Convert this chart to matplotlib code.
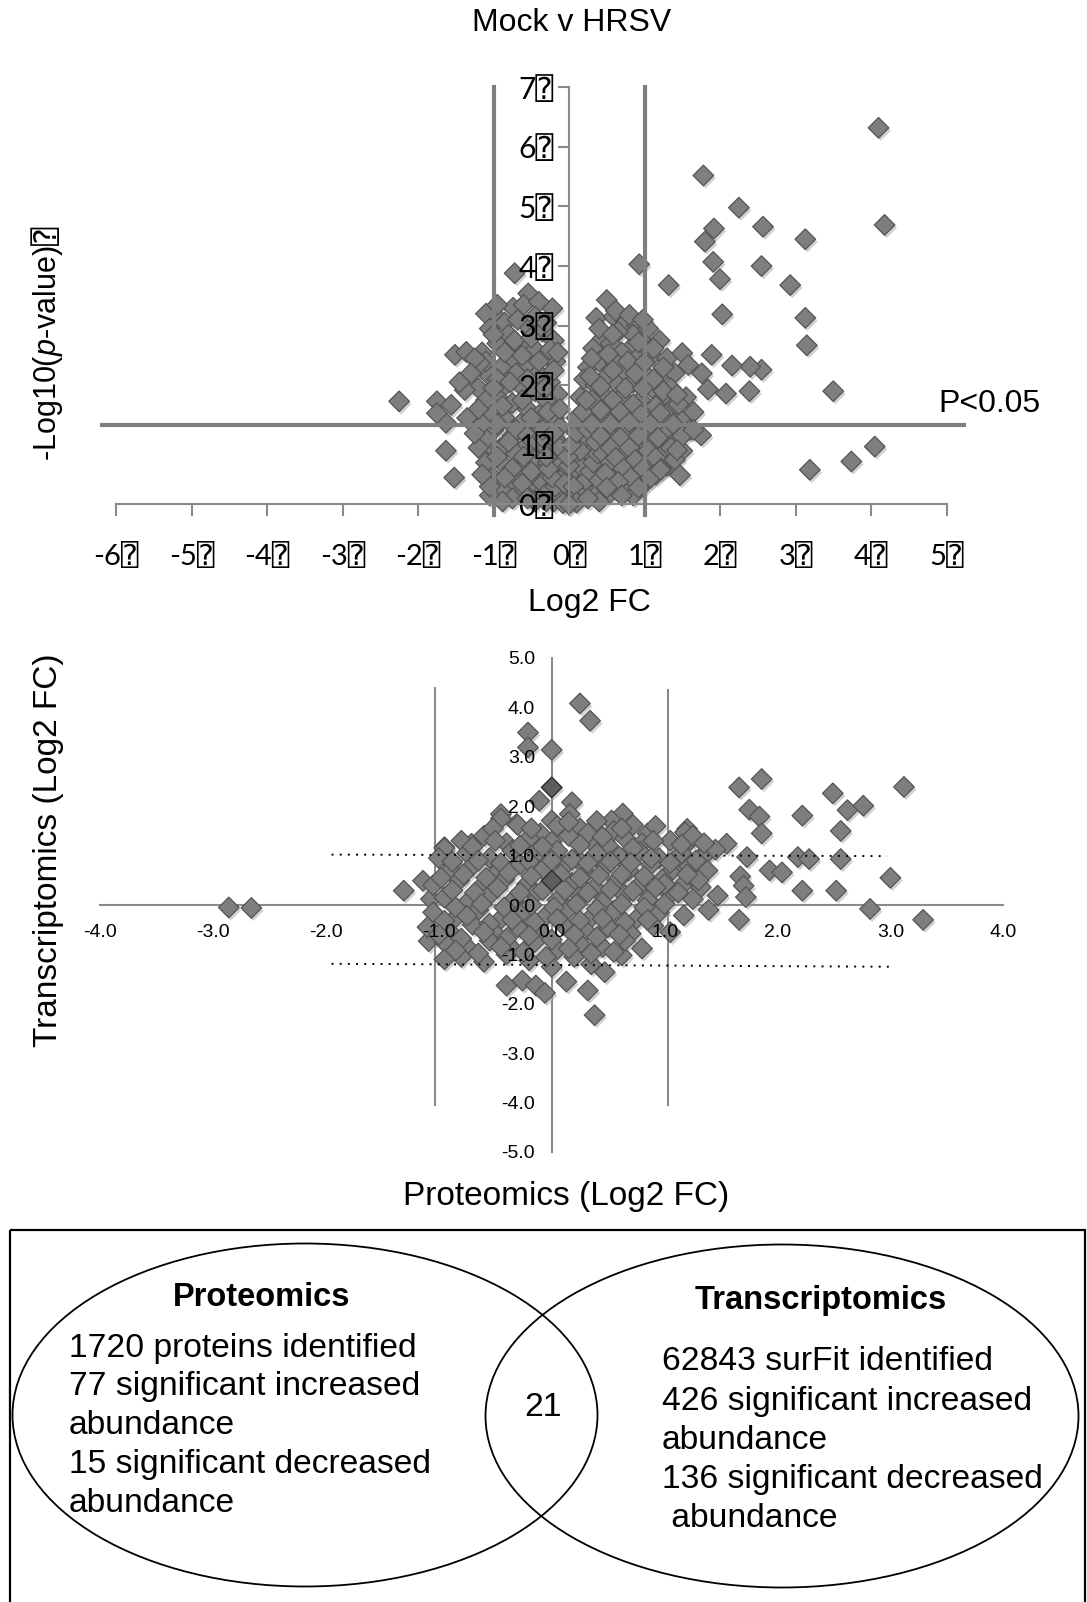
import matplotlib
matplotlib.use('Agg')
import numpy as np
import matplotlib.pyplot as plt
from matplotlib.patches import Ellipse, Rectangle
from matplotlib import patheffects

plt.rcParams['font.family'] = ['Liberation Sans', 'DejaVu Sans']
plt.rcParams['mathtext.fontset'] = 'custom'
plt.rcParams['mathtext.it'] = 'Liberation Sans:italic'
plt.rcParams['mathtext.rm'] = 'Liberation Sans'

W, H = 1087, 1602
BOX = '\u2370'
TICK_FONT = ['Lato', 'DejaVu Sans', 'DejaVu Sans Mono']

# ---- volcano plot (Log2 FC, -log10 p) ----
volcano_left = [
    (-0.72, 3.88), (-0.54, 3.54), (-0.22, 3.29), (-0.74, 3.30), (-0.97, 3.16), (-0.60, 3.35),
    (-0.40, 3.40), (-0.85, 3.05), (-1.10, 3.20), (-1.05, 2.95), (-0.80, 2.85), (-0.55, 3.00),
    (-0.35, 2.90), (-0.20, 2.75), (-0.95, 2.70), (-0.65, 2.65), (-0.45, 2.60), (-0.30, 2.50),
    (-1.15, 2.55), (-0.75, 2.45), (-0.55, 2.35), (-0.18, 2.40), (-0.90, 2.30), (-1.05, 2.15),
    (-0.70, 2.20), (-0.40, 2.20), (-0.25, 2.05), (-0.85, 2.00), (-0.60, 1.95), (-0.45, 1.90),
    (-0.15, 1.85), (-1.20, 1.95), (-0.95, 1.80), (-0.30, 1.75), (-0.75, 1.70), (-1.05, 1.55),
    (-0.55, 1.60), (-0.40, 1.50), (-0.20, 1.45), (-0.85, 1.45), (-0.65, 1.35), (-0.12, 1.30),
    (-1.00, 1.25), (-0.45, 1.25), (-0.30, 1.20), (-0.75, 1.15), (-1.05, 1.00), (-0.90, 0.95),
    (-0.55, 1.00), (-0.35, 0.95), (-0.20, 0.90), (-0.70, 0.85), (-1.10, 0.70), (-0.45, 0.75),
    (-0.28, 0.70), (-0.85, 0.65), (-0.60, 0.60), (-0.15, 0.60), (-0.40, 0.50), (-1.00, 0.45),
    (-0.75, 0.40), (-0.50, 0.35), (-0.25, 0.35), (-0.90, 0.25), (-0.60, 0.20), (-0.35, 0.15),
    (-0.15, 0.20), (-1.05, 0.15), (-0.45, 0.05), (-0.20, 0.05), (-0.75, 0.10),
    (-0.95, 3.35), (-0.68, 3.10), (-0.45, 3.15), (-0.30, 3.05), (-1.00, 2.85), (-0.72, 2.75),
    (-0.50, 2.80), (-0.25, 2.60), (-1.10, 2.40), (-0.85, 2.55), (-0.62, 2.50), (-0.40, 2.40),
    (-0.20, 2.25), (-0.95, 2.10), (-0.78, 2.05), (-0.55, 2.10), (-0.32, 1.95), (-1.10, 1.75),
    (-0.88, 1.65), (-0.62, 1.75), (-0.50, 1.45), (-0.28, 1.55), (-0.95, 1.35), (-0.70, 1.25),
    (-0.55, 1.15), (-0.18, 1.10), (-1.10, 1.10), (-0.80, 1.05), (-0.42, 1.05), (-0.95, 0.80),
    (-0.60, 0.80), (-0.30, 0.55), (-0.75, 0.60), (-0.50, 0.55), (-1.05, 0.30), (-0.85, 0.45),
    (-0.35, 0.35), (-0.62, 0.35), (-0.88, 0.05), (-0.55, 0.10), (-0.30, 0.05), (-1.15, 0.50),
    (-1.20, 0.95), (-1.15, 1.35), (-1.00, 1.95), (-0.15, 2.55), (-0.12, 1.60),
    (-2.25, 1.73), (-1.75, 1.73), (-1.63, 1.37), (-1.63, 0.90), (-1.52, 0.45), (-1.51, 2.51),
    (-1.36, 2.56), (-1.56, 1.67), (-1.25, 1.19), (-1.38, 1.92), (-1.18, 2.37), (-1.75, 1.53),
    (-1.25, 2.45), (-1.30, 2.20), (-1.45, 2.05), (-1.20, 1.60), (-1.35, 1.45),
]
volcano_centre = [
    (-0.05, 0.10), (0.05, 0.10), (-0.10, 0.25), (0.10, 0.20), (-0.15, 0.40), (0.15, 0.35),
    (-0.20, 0.55), (0.20, 0.50), (-0.25, 0.75), (0.25, 0.65), (-0.30, 0.95), (0.30, 0.80),
    (-0.33, 1.10), (0.35, 0.95), (0.40, 1.10), (0.00, 0.30), (0.05, 0.50), (-0.05, 0.60),
    (0.10, 0.75), (-0.10, 0.85), (0.12, 1.00), (-0.15, 1.05), (0.20, 1.10), (0.05, 0.90),
    (-0.02, 0.20), (0.02, 0.40), (0.08, 0.60), (-0.08, 0.45), (0.15, 0.65), (-0.18, 0.70),
    (0.25, 0.30), (-0.25, 0.25), (0.30, 0.45), (0.45, 0.60), (0.50, 0.40), (0.35, 0.20),
    (0.60, 0.30), (0.40, 0.05),
    (-0.12, 0.15), (0.12, 0.12), (-0.18, 0.30), (0.18, 0.28), (-0.22, 0.45), (0.22, 0.40),
    (-0.27, 0.60), (0.28, 0.55), (-0.30, 0.80), (0.32, 0.70), (-0.35, 1.25), (0.38, 0.85),
    (-0.06, 0.35), (0.06, 0.30), (-0.08, 0.70), (0.08, 0.85), (-0.12, 0.95), (0.15, 0.90),
    (0.00, 0.65), (-0.02, 0.80), (0.03, 1.00), (0.10, 1.20), (-0.20, 1.20), (0.28, 1.25),
    (0.02, 0.05), (-0.08, 0.02), (0.10, 0.03), (0.00, 0.00),
]
volcano_right = [
    (0.50, 3.43), (0.36, 3.13), (0.59, 3.15), (0.32, 2.62), (0.45, 2.79), (0.75, 3.05),
    (0.90, 3.00), (0.85, 2.85), (1.05, 2.95), (0.65, 2.90), (0.55, 2.70), (1.00, 2.70),
    (1.20, 2.75), (0.80, 2.60), (0.70, 2.55), (0.25, 2.30), (0.40, 2.40), (0.60, 2.40),
    (0.90, 2.45), (1.10, 2.50), (1.30, 2.45), (0.20, 2.10), (0.50, 2.15), (0.75, 2.20),
    (1.00, 2.20), (1.20, 2.15), (1.40, 2.20), (0.35, 2.00), (0.65, 2.00), (0.85, 2.05),
    (1.10, 1.95), (1.35, 1.95), (0.15, 1.80), (0.45, 1.85), (0.70, 1.80), (0.95, 1.75),
    (1.25, 1.75), (1.55, 1.80), (0.25, 1.60), (0.55, 1.60), (0.80, 1.55), (1.05, 1.55),
    (1.35, 1.60), (1.65, 1.55), (0.10, 1.45), (0.40, 1.40), (0.65, 1.40), (0.90, 1.35),
    (1.20, 1.40), (1.50, 1.40), (0.25, 1.25), (0.50, 1.20), (0.75, 1.25), (1.00, 1.20),
    (1.30, 1.20), (1.60, 1.25), (0.35, 1.05), (0.60, 1.00), (0.85, 1.05), (1.10, 1.00),
    (1.40, 1.05), (0.45, 0.85), (0.70, 0.85), (0.95, 0.85), (1.25, 0.85), (1.50, 0.90),
    (0.55, 0.70), (0.80, 0.65), (1.05, 0.70), (1.30, 0.65), (0.65, 0.50), (0.90, 0.50),
    (1.15, 0.50), (0.40, 0.40), (0.75, 0.35), (1.00, 0.35), (0.55, 0.20), (0.85, 0.15),
    (0.25, 0.10),
    (0.62, 3.25), (0.80, 3.18), (0.98, 3.10), (0.40, 2.95), (0.58, 2.85), (0.92, 2.72),
    (1.12, 2.62), (0.30, 2.45), (0.52, 2.52), (0.78, 2.40), (1.00, 2.38), (1.25, 2.30),
    (0.28, 2.15), (0.58, 2.25), (0.88, 2.20), (1.12, 2.10), (0.42, 1.98), (0.75, 1.95),
    (0.98, 1.95), (1.25, 1.90), (0.30, 1.75), (0.58, 1.75), (0.85, 1.68), (1.15, 1.65),
    (1.45, 1.68), (0.18, 1.55), (0.42, 1.58), (0.68, 1.55), (0.95, 1.50), (1.28, 1.50),
    (0.30, 1.35), (0.55, 1.35), (0.80, 1.38), (1.08, 1.35), (1.38, 1.35), (0.42, 1.15),
    (0.68, 1.12), (0.92, 1.15), (1.18, 1.12), (1.50, 1.15), (0.55, 0.95), (0.80, 0.95),
    (1.05, 0.90), (1.35, 0.95), (0.62, 0.78), (0.88, 0.75), (1.15, 0.78), (1.40, 0.75),
    (0.72, 0.60), (0.98, 0.60), (1.22, 0.60), (0.48, 0.52), (0.82, 0.45), (1.08, 0.45),
    (0.65, 0.38), (0.92, 0.28), (0.70, 0.15), (0.50, 0.28),
    (4.10, 6.32), (1.78, 5.52), (2.25, 4.98), (1.92, 4.63), (2.57, 4.66), (1.80, 4.41),
    (3.13, 4.45), (4.18, 4.69), (0.93, 4.03), (1.91, 4.07), (2.55, 4.00), (2.00, 3.78),
    (1.32, 3.68), (2.93, 3.68), (2.03, 3.19), (3.13, 3.13), (3.15, 2.67), (3.50, 1.90),
    (4.05, 0.97), (3.74, 0.72), (3.19, 0.58), (2.55, 2.26), (2.40, 2.31), (2.16, 2.33),
    (2.39, 1.90), (2.08, 1.86), (1.89, 2.51), (1.76, 2.20), (1.50, 2.54), (1.58, 2.34),
    (1.84, 1.93), (1.75, 1.16), (1.47, 0.49), (1.43, 1.84), (1.21, 1.53), (1.65, 1.25),
    (1.21, 0.58), (1.43, 0.91), (0.23, 1.75),
]
p_cutoff = 1.33
fc_cutoff = 1.0
volcano_xticks = [-6, -5, -4, -3, -2, -1, 0, 1, 2, 3, 4, 5]
volcano_yticks = [0, 1, 2, 3, 4, 5, 6, 7]

# ---- proteomics vs transcriptomics ----
fc_pairs = [
    (0.25, 4.08), (0.34, 3.73), (-0.21, 3.49), (-0.21, 3.19), (0.00, 3.14), (-0.11, 2.11),
    (0.18, 2.08), (-0.45, 1.84), (-0.31, 1.64), (0.00, 1.71), (0.16, 1.84), (0.63, 1.85),
    (0.53, 1.71), (1.20, 1.54),
    (1.66, 2.38), (1.86, 2.55), (2.49, 2.26), (3.12, 2.39), (1.75, 1.93), (1.84, 1.79),
    (2.22, 1.81), (2.62, 1.92), (2.76, 2.01), (1.86, 1.45), (2.56, 1.50), (1.55, 1.24),
    (1.18, 1.47), (1.23, 1.32), (1.73, 0.97), (2.18, 0.97), (2.28, 0.93), (2.56, 0.93),
    (1.93, 0.70), (2.04, 0.66), (1.67, 0.58), (1.70, 0.39), (3.00, 0.55), (2.22, 0.29),
    (2.52, 0.29), (1.72, 0.16), (1.47, 0.19), (1.39, -0.10), (1.17, -0.21), (1.66, -0.30),
    (2.82, -0.08), (3.29, -0.30), (1.17, 0.76), (1.26, 0.56), (1.32, 0.36), (1.35, 1.03),
    (-2.86, -0.05), (-2.66, -0.06), (-1.31, 0.29), (-1.14, 0.49), (-1.07, 0.12), (-0.95, 1.17),
    (-0.89, 0.84), (-0.71, 1.24), (-1.09, -0.73),
    (-0.40, -1.63), (-0.26, -1.53), (-0.14, -1.63), (-0.06, -1.78), (0.13, -1.55), (0.32, -1.73),
    (0.38, -2.23), (0.47, -1.36), (0.62, -1.02),
    (-0.45, 1.75), (-0.30, 1.62), (0.05, 1.60), (0.25, 1.55), (0.40, 1.70), (0.55, 1.50),
    (0.72, 1.62), (0.85, 1.45), (-0.10, 1.45),
    (-0.80, 1.30), (-0.60, 1.40), (-0.40, 1.25), (-0.20, 1.35), (0.00, 1.28), (0.15, 1.40),
    (0.35, 1.30), (0.50, 1.20), (0.65, 1.35), (0.80, 1.25), (1.05, 1.30), (1.25, 1.40),
    (-0.95, 1.15),
    (-1.00, 0.95), (-0.75, 1.05), (-0.55, 0.95), (-0.35, 1.10), (-0.15, 1.00), (0.05, 1.10),
    (0.22, 0.95), (0.40, 1.05), (0.60, 0.98), (0.78, 1.08), (0.95, 0.95), (1.15, 1.05),
    (1.35, 1.00), (1.45, 1.12),
    (-0.90, 0.70), (-0.70, 0.80), (-0.48, 0.68), (-0.28, 0.82), (-0.08, 0.72), (0.12, 0.80),
    (0.30, 0.65), (0.48, 0.78), (0.68, 0.70), (0.88, 0.82), (1.05, 0.66), (1.22, 0.78),
    (1.38, 0.70),
    (-1.05, 0.40), (-0.82, 0.50), (-0.62, 0.38), (-0.42, 0.52), (-0.22, 0.42), (0.18, 0.45),
    (0.38, 0.35), (0.58, 0.50), (0.78, 0.40), (0.98, 0.52), (1.15, 0.38), (1.30, 0.50),
    (-0.95, 0.15), (-0.75, 0.05), (-0.55, 0.20), (-0.35, 0.08), (-0.15, 0.22), (0.05, 0.10),
    (0.25, 0.18), (0.45, 0.05), (0.65, 0.20), (0.85, 0.10), (1.05, 0.22), (1.25, 0.12),
    (-1.05, -0.15), (-0.85, -0.25), (-0.65, -0.10), (-0.45, -0.28), (-0.25, -0.12), (-0.05, -0.22),
    (0.15, -0.08), (0.35, -0.25), (0.55, -0.12), (0.75, -0.28), (0.95, -0.15),
    (-1.10, -0.45), (-0.90, -0.55), (-0.70, -0.40), (-0.50, -0.58), (-0.30, -0.45), (-0.10, -0.55),
    (0.10, -0.40), (0.30, -0.52), (0.50, -0.45), (0.70, -0.58), (0.90, -0.42), (1.05, -0.55),
    (-0.95, -0.75), (-0.75, -0.85), (-0.55, -0.72), (-0.35, -0.88), (-0.15, -0.75), (0.05, -0.90),
    (0.25, -0.78), (0.45, -0.85), (0.65, -0.72), (0.80, -0.88),
    (-0.80, -1.05), (-0.60, -1.15), (-0.40, -1.00), (-0.20, -1.12), (0.00, -1.25), (0.20, -1.05),
    (0.35, -1.20), (-0.95, -1.10),
    (-0.52, 1.55), (-0.18, 1.55), (0.15, 1.68), (0.32, 1.45), (0.62, 1.55), (0.92, 1.60),
    (-0.70, 1.18), (-0.50, 1.30), (-0.28, 1.20), (-0.08, 1.18), (0.25, 1.22), (0.45, 1.38),
    (0.72, 1.15), (0.90, 1.30), (1.15, 1.22), (1.35, 1.25),
    (-0.88, 0.88), (-0.65, 0.90), (-0.45, 0.85), (-0.20, 0.88), (0.00, 0.90), (0.18, 0.92),
    (0.32, 0.85), (0.52, 0.88), (0.70, 0.85), (0.88, 0.95), (1.05, 0.85), (1.28, 0.90),
    (-0.98, 0.55), (-0.78, 0.62), (-0.58, 0.55), (-0.38, 0.65), (-0.18, 0.58), (0.08, 0.62),
    (0.25, 0.55), (0.42, 0.60), (0.62, 0.62), (0.82, 0.58), (1.00, 0.42), (1.20, 0.62),
    (-0.88, 0.30), (-0.68, 0.25), (-0.48, 0.35), (-0.28, 0.25), (-0.08, 0.30), (0.12, 0.30),
    (0.32, 0.25), (0.52, 0.32), (0.72, 0.28), (0.92, 0.35), (1.12, 0.25),
    (-0.85, -0.05), (-0.62, 0.02), (-0.42, -0.05), (-0.18, 0.00), (0.02, -0.05), (0.22, 0.02),
    (0.40, -0.08), (0.62, 0.02), (0.82, -0.05), (1.00, 0.02),
    (-0.95, -0.32), (-0.75, -0.22), (-0.55, -0.38), (-0.35, -0.30), (-0.15, -0.35), (0.05, -0.28),
    (0.25, -0.32), (0.45, -0.28), (0.65, -0.35), (0.85, -0.30),
    (-1.00, -0.60), (-0.80, -0.68), (-0.60, -0.55), (-0.40, -0.68), (-0.20, -0.62), (0.00, -0.70),
    (0.20, -0.60), (0.40, -0.65), (0.60, -0.60),
    (-0.85, -0.92), (-0.65, -0.98), (-0.45, -0.85), (-0.25, -0.95), (-0.05, -1.05), (0.15, -0.88),
    (0.35, -0.98), (0.55, -0.95),
]
fc_dark = [(0.00, 2.38), (0.00, 0.49)]
trans_cut_hi = [(-1.95, 1.02), (2.97, 0.99)]
trans_cut_lo = [(-1.95, -1.19), (3.00, -1.25)]
prot_cut = 1.03
scatter_ticks = [-4, -3, -2, -1, 0, 1, 2, 3, 4]
scatter_yticks = [-5, -4, -3, -2, -1, 0, 1, 2, 3, 4, 5]

# ---- venn counts ----
left_lines = ['1720 proteins identified', '77 significant increased', 'abundance',
              '15 significant decreased', 'abundance']
right_lines = ['62843 surFit identified', '426 significant increased', 'abundance',
               '136 significant decreased', ' abundance']
overlap = '21'

FACE = '#7e7e7e'
EDGE = '#555555'
GREY = '#8a8a8a'
shadow = [patheffects.SimplePatchShadow(offset=(1.5, -2), shadow_rgbFace='#9a9a9a', alpha=0.45),
          patheffects.Normal()]

fig = plt.figure(figsize=(W / 100, H / 100), dpi=100)

# background axes in pixel coordinates for the venn panel
bg = fig.add_axes([0, 0, 1, 1])
bg.set_xlim(0, W)
bg.set_ylim(H, 0)
bg.axis('off')
bg.add_patch(Rectangle((10, 1230), 1075, 400, fill=False, ec='black', lw=1.6))
bg.add_patch(Ellipse((305, 1415), 585, 343, fill=False, ec='black', lw=1.3))
bg.add_patch(Ellipse((782, 1416), 593, 343, fill=False, ec='black', lw=1.3))
bg.text(262, 1298, 'Proteomics', fontsize=23.5, fontweight='bold', ha='center', va='center')
bg.text(821, 1300, 'Transcriptomics', fontsize=23.5, fontweight='bold', ha='center', va='center')
for i, line in enumerate(left_lines):
    bg.text(69, 1348 + i * 38.8, line, fontsize=24.2, ha='left', va='center')
for i, line in enumerate(right_lines):
    bg.text(662, 1362 + i * 39.1, line, fontsize=24.2, ha='left', va='center')
bg.text(543, 1408, overlap, fontsize=24.2, ha='center', va='center')

# ---- top: volcano ----
ax1 = fig.add_axes([116 / W, 1 - 504.4 / H, (946.5 - 116) / W, (504.4 - 87.3) / H])
ax1.set_facecolor('none')
ax1.set_xlim(-6, 5)
ax1.set_ylim(0, 7)
ax1.spines['top'].set_visible(False)
ax1.spines['right'].set_visible(False)
ax1.spines['left'].set_position(('data', 0))
for s in ['left', 'bottom']:
    ax1.spines[s].set_color(GREY)
    ax1.spines[s].set_linewidth(1.5)
ax1.set_xticks(volcano_xticks)
ax1.set_xticklabels([f'{v}{BOX}' for v in volcano_xticks], family=TICK_FONT, fontsize=21)
ax1.set_yticks(volcano_yticks)
ax1.set_yticklabels([f'{v}{BOX}' for v in volcano_yticks], family=TICK_FONT, fontsize=21.5)
ax1.tick_params(axis='x', direction='out', length=8.5, width=1.5, color=GREY, pad=19)
ax1.tick_params(axis='y', direction='out', length=8, width=1.5, color=GREY, pad=3)

vpts = np.array(volcano_left + volcano_centre + volcano_right)
sc = ax1.scatter(vpts[:, 0], vpts[:, 1], marker='D', s=110, c=FACE, edgecolors=EDGE,
                 linewidths=0.9, zorder=1, clip_on=False)
sc.set_path_effects(shadow)
for xv in (-fc_cutoff, fc_cutoff):
    ax1.plot([xv, xv], [-0.17, 7], color='#7f7f7f', lw=3, zorder=3, clip_on=False)
ax1.plot([-6.19, 5.23], [p_cutoff, p_cutoff], color='#7f7f7f', lw=3, zorder=3, clip_on=False)

fig.text(572 / W, 1 - 23 / H, 'Mock v HRSV', fontsize=23, ha='center', va='center')
fig.text(938 / W, 1 - 404 / H, 'P<0.05', fontsize=23, ha='left', va='center')
fig.text(589 / W, 1 - 603 / H, 'Log2 FC', fontsize=23, ha='center', va='center')
ylab = fig.text(48 / W, 1 - 461 / H, '-Log10($\\it{p}$-value)', fontsize=22, rotation=90,
                ha='center', va='bottom')
bg.annotate(BOX, xy=(0.5, 1.0), xycoords=ylab, fontsize=22, rotation=90, ha='center',
            va='bottom', family=['DejaVu Sans', 'DejaVu Sans Mono'])

# ---- middle: proteomics vs transcriptomics ----
ax2 = fig.add_axes([100.1 / W, 1 - 1152 / H, 903.2 / W, 494 / H])
ax2.set_facecolor('none')
ax2.set_xlim(-4, 4)
ax2.set_ylim(-5, 5)
ax2.spines['top'].set_visible(False)
ax2.spines['right'].set_visible(False)
ax2.spines['left'].set_position(('data', 0))
ax2.spines['bottom'].set_position(('data', 0))
for s in ['left', 'bottom']:
    ax2.spines[s].set_color(GREY)
    ax2.spines[s].set_linewidth(1.5)
    ax2.spines[s].set_zorder(0.5)
ax2.set_xticks(scatter_ticks)
ax2.set_xticklabels([f'{v:.1f}' for v in scatter_ticks], fontsize=14)
ax2.set_yticks(scatter_yticks)
ax2.set_yticklabels([f'{v:.1f}' for v in scatter_yticks], fontsize=14)
ax2.tick_params(axis='x', length=0, pad=14)
ax2.tick_params(axis='y', length=0, pad=12)

fpts = np.array(fc_pairs)
sc2 = ax2.scatter(fpts[:, 0], fpts[:, 1], marker='D', s=110, c=FACE, edgecolors=EDGE,
                  linewidths=0.9, zorder=1)
sc2.set_path_effects(shadow)
dpts = np.array(fc_dark)
sc3 = ax2.scatter(dpts[:, 0], dpts[:, 1], marker='D', s=110, c='#5e5e5e', edgecolors='#2e2e2e',
                  linewidths=1.0, zorder=1.1)
sc3.set_path_effects(shadow)
ax2.plot([-prot_cut, -prot_cut], [-4.05, 4.4], color=GREY, lw=1.5, zorder=0.5)
ax2.plot([prot_cut, prot_cut], [-4.05, 4.35], color=GREY, lw=1.5, zorder=0.5)
for seg in (trans_cut_hi, trans_cut_lo):
    ax2.plot([seg[0][0], seg[1][0]], [seg[0][1], seg[1][1]], color='black', lw=1.4,
             linestyle=(0, (1, 3.2)), zorder=3)

fig.text(48.5 / W, 1 - 850 / H, 'Transcriptomics (Log2 FC)', fontsize=24, rotation=90,
         ha='center', va='center')
fig.text(566 / W, 1 - 1197 / H, 'Proteomics (Log2 FC)', fontsize=24, ha='center', va='center')

fig.savefig('out.png', dpi=100)
